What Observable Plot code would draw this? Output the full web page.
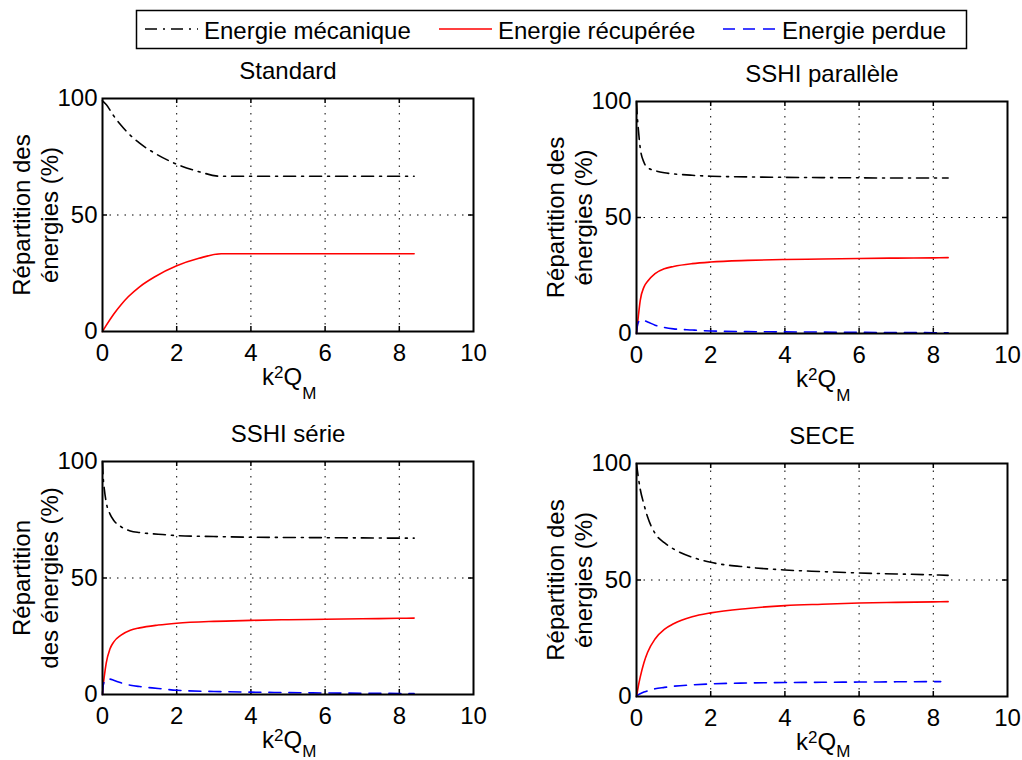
<!DOCTYPE html>
<html><head><meta charset="utf-8">
<script src="https://cdn.jsdelivr.net/npm/d3@7"></script>
<script src="https://cdn.jsdelivr.net/npm/@observablehq/plot@0.6"></script>
<style>
html,body{margin:0;padding:0;background:#fff;}
#root{position:relative;width:1022px;height:760px;overflow:hidden;font-family:"Liberation Sans",Arial,Helvetica,sans-serif;}
#root > *{position:absolute;}
</style></head><body><div id="root"></div>
<script>
// ---------- data ----------
const seriesNames = ["Energie mécanique", "Energie récupérée", "Energie perdue"];
const seriesColors = ["#000000", "#ff0000", "#0000ff"];
const seriesDash = ["12,6,2,6", null, "12,8"];

const panelTitles = ["Standard", "SSHI parallèle", "SSHI série", "SECE"];
const yLabels = [
  "Répartition des\nénergies (%)",
  "Répartition des\nénergies (%)",
  "Répartition\ndes énergies (%)",
  "Répartition des\nénergies (%)"
];
const xTicks = [0, 2, 4, 6, 8, 10];
const yTicks = [0, 50, 100];
const xGridTicks = [2, 4, 6, 8];
const yGridTicks = [50];

// Standard
const xStd    = [0, 0.1, 0.3, 0.5, 0.7, 1, 1.4, 2, 2.6, 3.2, 4, 5, 6, 7, 8, 8.4];
const stdMech = [99, 97.4, 92.6, 88.5, 85, 80.8, 76.6, 71.8, 68.6, 66.6, 66.6, 66.6, 66.6, 66.6, 66.6, 66.6];
const stdRec  = [0, 2.6, 7.4, 11.5, 15, 19.2, 23.4, 28.2, 31.4, 33.4, 33.4, 33.4, 33.4, 33.4, 33.4, 33.4];

// SSHI parallèle
const xPar    = [0, 0.02, 0.05, 0.1, 0.2, 0.3, 0.5, 0.75, 1, 1.5, 2, 3, 4, 5, 6, 7, 8, 8.4];
const parMech = [100, 94, 88, 80, 73.8, 71.5, 70.2, 69.3, 68.8, 68.2, 67.8, 67.5, 67.3, 67.2, 67.1, 67.0, 67.0, 67.0];
const parRec  = [0, 3, 7.5, 14.2, 20, 22.5, 25.8, 27.9, 28.9, 30.1, 30.8, 31.5, 31.9, 32.1, 32.3, 32.5, 32.6, 32.7];
const parLoss = [0, 3, 4.8, 5.8, 5.6, 5.0, 3.6, 2.6, 2.0, 1.5, 1.1, 0.8, 0.7, 0.6, 0.5, 0.4, 0.35, 0.3];

// SSHI série
const xSer    = [0, 0.02, 0.05, 0.1, 0.2, 0.3, 0.5, 0.75, 1, 1.5, 2, 3, 4, 5, 6, 7, 8, 8.4];
const serMech = [100, 93, 88, 82.5, 77.5, 74.8, 72, 70.2, 69.5, 68.8, 68.2, 67.8, 67.5, 67.4, 67.3, 67.2, 67.1, 67.1];
const serRec  = [0, 4, 8, 13.5, 19.5, 22.5, 25.5, 27.6, 28.6, 29.8, 30.6, 31.4, 31.8, 32.1, 32.3, 32.5, 32.7, 32.8];
const serLoss = [0, 4, 5.5, 6.5, 6.6, 6.1, 5.0, 4.0, 3.4, 2.6, 1.8, 1.3, 1.0, 0.8, 0.65, 0.55, 0.45, 0.4];

// SECE
const xSece     = [0, 0.05, 0.1, 0.2, 0.3, 0.5, 0.75, 1, 1.5, 2, 3, 4, 5, 6, 7, 8, 8.4];
const seceMech  = [100, 94, 89, 82.5, 77, 70, 66, 63.3, 59.8, 57.6, 55.5, 54.3, 53.6, 53.0, 52.6, 52.2, 52.0];
const seceRec   = [0, 4.5, 8.3, 14.5, 19, 24.7, 28.8, 31.2, 34.2, 35.9, 37.8, 39.0, 39.6, 40.1, 40.4, 40.6, 40.7];
const xSeceLoss = [0, 0.05, 0.1, 0.2, 0.3, 0.5, 0.75, 1, 1.5, 2, 3, 4, 5, 6, 7, 8.2];
const seceLoss  = [0, 0.8, 1.2, 1.9, 2.4, 3.3, 3.9, 4.4, 5.0, 5.4, 5.8, 6.0, 6.1, 6.2, 6.3, 6.4];

// series per panel: [seriesIndex, xArray, yArray]
const panelSeries = [
  [[0, xStd, stdMech], [1, xStd, stdRec]],
  [[0, xPar, parMech], [1, xPar, parRec], [2, xPar, parLoss]],
  [[0, xSer, serMech], [1, xSer, serRec], [2, xSer, serLoss]],
  [[0, xSece, seceMech], [1, xSece, seceRec], [2, xSeceLoss, seceLoss]]
];

// ---------- layout ----------
const FONT = '"Liberation Sans", Arial, Helvetica, sans-serif';
const panelLayout = [
  {left: 0,   top: 52,  width: 511, height: 353, mt: 46, mr: 38, mb: 74, ml: 102, subDy: 67},
  {left: 511, top: 52,  width: 511, height: 353, mt: 49, mr: 15, mb: 72, ml: 125, subDy: 67},
  {left: 0,   top: 405, width: 511, height: 355, mt: 56, mr: 38, mb: 66, ml: 102, subDy: 62},
  {left: 511, top: 405, width: 511, height: 355, mt: 58, mr: 15, mb: 64, ml: 125, subDy: 60}
];

const root = document.getElementById("root");

// ---------- legend ----------
const legendItemX = [145, 439, 723];
const leg = d3.create("svg").attr("width", 1022).attr("height", 52)
  .style("left", "0px").style("top", "0px").style("font-family", FONT);
leg.append("rect").attr("x", 136.5).attr("y", 10.5).attr("width", 830).attr("height", 38)
  .attr("fill", "white").attr("stroke", "black").attr("stroke-width", 1.5);
seriesNames.forEach((name, i) => {
  const x0 = legendItemX[i];
  leg.append("line").attr("x1", x0).attr("x2", x0 + 53).attr("y1", 29).attr("y2", 29)
    .attr("stroke", seriesColors[i]).attr("stroke-width", 1.6)
    .attr("stroke-dasharray", seriesDash[i]);
  leg.append("text").attr("x", x0 + 59).attr("y", 39).attr("font-size", 24)
    .attr("fill", "black").text(name);
});
root.appendChild(leg.node());

// ---------- panels ----------
panelTitles.forEach((title, p) => {
  const L = panelLayout[p];
  const pw = L.width - L.ml - L.mr;
  const ph = L.height - L.mt - L.mb;
  const lines = panelSeries[p].map(([s, xs, ys]) => {
    const rows = xs.map((x, j) => ({x, y: ys[j]}));
    return Plot.line(rows, {
      x: "x", y: "y", stroke: seriesColors[s], strokeWidth: 1.6,
      strokeDasharray: seriesDash[s] || undefined, curve: "monotone-x"
    });
  });
  const inner = xTicks.slice(1, -1);
  const innerY = yTicks.slice(1, -1);
  const txt = (s, o) => Plot.text([s], {text: d => d, fill: "black", ...o});
  const chart = Plot.plot({
    width: L.width, height: L.height,
    marginTop: L.mt, marginRight: L.mr, marginBottom: L.mb, marginLeft: L.ml,
    style: {fontFamily: FONT, fontSize: "24px", color: "black", background: "transparent", overflow: "visible"},
    x: {domain: [0, 10]},
    y: {domain: [0, 100]},
    marks: [
      Plot.gridX(xGridTicks, {stroke: "black", strokeOpacity: 1, strokeWidth: 1, strokeDasharray: "1.5,6"}),
      Plot.gridY(yGridTicks, {stroke: "black", strokeOpacity: 1, strokeWidth: 1, strokeDasharray: "1.5,6"}),
      Plot.ruleX(inner, {x: d => d, insetTop: ph - 5, stroke: "black", strokeWidth: 1.5}),
      Plot.ruleX(inner, {x: d => d, insetBottom: ph - 5, stroke: "black", strokeWidth: 1.5}),
      Plot.ruleY(innerY, {y: d => d, insetRight: pw - 5, stroke: "black", strokeWidth: 1.5}),
      Plot.ruleY(innerY, {y: d => d, insetLeft: pw - 5, stroke: "black", strokeWidth: 1.5}),
      ...lines,
      Plot.frame({stroke: "black", strokeWidth: 2}),
      Plot.axisX(xTicks, {tickSize: 0, tickPadding: 12, label: null, fontSize: 24}),
      Plot.axisY(yTicks, {tickSize: 0, tickPadding: 5, label: null, fontSize: 24}),
      txt(title, {frameAnchor: "top", lineAnchor: "bottom", dy: -20, fontSize: 24}),
      txt(yLabels[p], {frameAnchor: "left", rotate: -90, dx: -67, lineAnchor: "middle", textAnchor: "middle", lineHeight: 1.1667, fontSize: 24}),
      txt("k", {frameAnchor: "bottom", lineAnchor: "bottom", textAnchor: "start", dx: -26, dy: 53, fontSize: 24}),
      txt("2", {frameAnchor: "bottom", lineAnchor: "bottom", textAnchor: "start", dx: -14, dy: 46, fontSize: 17}),
      txt("Q", {frameAnchor: "bottom", lineAnchor: "bottom", textAnchor: "start", dx: -4.5, dy: 53, fontSize: 24}),
      txt("M", {frameAnchor: "bottom", lineAnchor: "bottom", textAnchor: "start", dx: 14.2, dy: L.subDy, fontSize: 17})
    ]
  });
  chart.style.position = "absolute";
  chart.style.left = L.left + "px";
  chart.style.top = L.top + "px";
  chart.style.maxWidth = "none";
  root.appendChild(chart);
});
</script>
</body></html>
